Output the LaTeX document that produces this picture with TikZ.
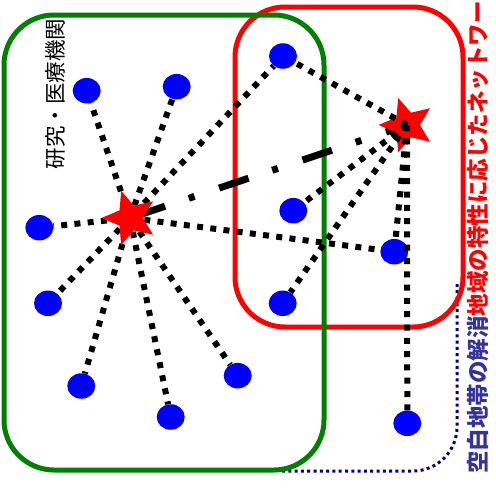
\documentclass[tikz,border=0pt]{standalone}
\usepackage{fontspec}
\newfontfamily\jp{Noto Sans CJK JP}
\usetikzlibrary{shapes.geometric}
\definecolor{txtblue}{RGB}{51,51,153}
\definecolor{navyline}{RGB}{0,0,128}
\definecolor{boxgreen}{RGB}{0,128,0}
\pgfdeclarelayer{bg}
\pgfdeclarelayer{lines}
\pgfdeclarelayer{top}
\pgfsetlayers{bg,lines,main,top}
\tikzset{
  site/.style={ellipse, fill=blue, minimum width=28pt, minimum height=25.5pt, inner sep=0pt},
  hub/.style={star, star points=5, star point ratio=2.2, shape border rotate=18, fill=red, minimum size=57pt, inner sep=0pt},
  link/.style={line width=6pt, dash pattern=on 6pt off 7.3pt},
  backbone/.style={line width=7pt, dash pattern=on 31pt off 25pt on 6pt off 26pt, dash phase=82pt},
  area/.style={line width=5pt, rounded corners=50pt},
  gap/.style={navyline, line width=3pt, dash pattern=on 3pt off 3.3pt, rounded corners=44pt},
}
\begin{document}
\begin{tikzpicture}[x=1pt,y=-1pt]
\useasboundingbox (0,0) rectangle (496,491);
\clip (0,0) rectangle (496,491);
% sites
\node[site] (a1) at (86.7,90.7) {};
\node[site] (a2) at (176.7,86.7) {};
\node[site] (a3) at (39.3,227.7) {};
\node[site] (a4) at (48,303.3) {};
\node[site] (a5) at (81.3,386) {};
\node[site] (a6) at (170.7,417) {};
\node[site] (a7) at (237.7,375.7) {};
\node[site] (b1) at (283,56) {};
\node[site] (b2) at (293.3,210.7) {};
\node[site] (b3) at (394.3,251.7) {};
\node[site] (b4) at (282.7,303.3) {};
\node[site] (b5) at (407.3,423.3) {};
% hubs
\node[hub] (ls) at (130,218) {};
\node[hub] (rs) at (407,125) {};
% texts
\node[rotate=90, inner sep=0pt, font=\jp\fontsize{21.5pt}{21.5pt}\selectfont] (t1) at (55,94) {研究・医療機関};
\node[rotate=90, anchor=west, inner sep=0pt, font=\jp\bfseries\fontsize{22.5pt}{22.5pt}\selectfont] (t2) at (478,474)
  {\textcolor{txtblue}{空白地帯の解消}\textcolor{red}{地域の特性に応じたネットワーク}};
\begin{pgfonlayer}{bg}
  \draw[gap] (282,471) -- (457,471) -- (457,284);
  \draw[area, red] (235,7) rectangle (463,327);
  \draw[area, boxgreen] (4,15) rectangle (324,470);
\end{pgfonlayer}
\begin{pgfonlayer}{lines}
  \draw[backbone] (ls.center) -- (rs.center);
  \foreach \s in {a1,a2,a3,a4,a5,a6,a7,b1,b3}
    \draw[link] (ls) -- (\s);
\end{pgfonlayer}
\begin{pgfonlayer}{top}
  \foreach \s in {b1,b2,b3,b4,b5}
    \draw[link] (rs.center) -- (\s);
\end{pgfonlayer}
\end{tikzpicture}
\end{document}
